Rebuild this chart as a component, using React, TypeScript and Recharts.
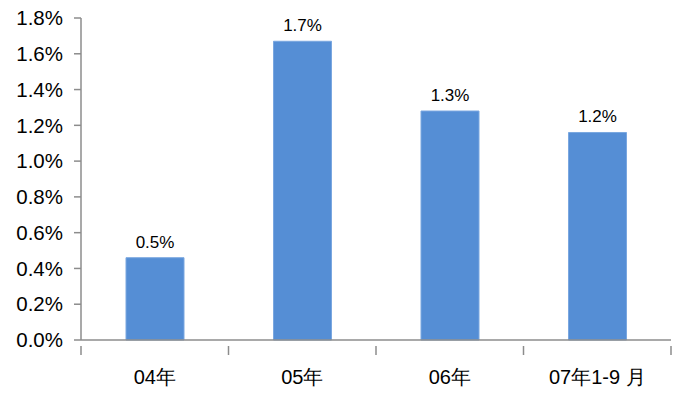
import React from "react";
import { BarChart, Bar, XAxis, YAxis, LabelList } from "recharts";

const categories = ["04年", "05年", "06年", "07年1-9 月"];
const rates = [0.46, 1.67, 1.28, 1.16];
const yTicks = [0, 0.2, 0.4, 0.6, 0.8, 1.0, 1.2, 1.4, 1.6, 1.8];

const data = categories.map((c, i) => ({ name: c, value: rates[i] }));

const AXIS = "#8c8c8c";
const FONT = "'Liberation Sans', Arial, sans-serif";

const XTick = (props: any) => {
  const { x, y, payload, index, visibleTicksCount } = props;
  const half = payload && payload.offset ? payload.offset : 73.75;
  const isLast = index === (visibleTicksCount ?? categories.length) - 1;
  return (
    <g>
      <line x1={x - half} x2={x - half} y1={y - 2} y2={y + 7} stroke={AXIS} strokeWidth={1.5} />
      {isLast && (
        <line x1={x + half} x2={x + half} y1={y - 2} y2={y + 7} stroke={AXIS} strokeWidth={1.5} />
      )}
      <text x={x} y={y + 36} textAnchor="middle" fontSize={20} fontFamily={FONT} fill="#000">
        {payload.value}
      </text>
    </g>
  );
};

export default function App() {
  return (
    <div style={{ position: "absolute", left: 0, top: 0, background: "#fff" }}>
      <BarChart
        width={683}
        height={394}
        data={data}
        margin={{ top: 18, right: 12, bottom: 24, left: 0 }}
        barSize={58}
      >
        <XAxis
          dataKey="name"
          axisLine={{ stroke: AXIS, strokeWidth: 1.5 }}
          tickLine={false}
          height={30}
          tick={<XTick />}
          interval={0}
        />
        <YAxis
          width={81}
          domain={[0, 1.8]}
          ticks={yTicks}
          interval={0}
          tickFormatter={(v: number) => v.toFixed(1) + "%"}
          axisLine={{ stroke: AXIS, strokeWidth: 1.5 }}
          tickLine={{ stroke: AXIS, strokeWidth: 1.5 }}
          tickSize={7}
          tickMargin={11}
          tick={{ fontSize: 20.5, fontFamily: FONT, fill: "#000" }}
        />
        <Bar dataKey="value" fill="#558ED5" stroke="#7aa7e0" strokeWidth={1} isAnimationActive={false}>
          <LabelList
            dataKey="value"
            position="top"
            offset={10}
            formatter={(v: number) => v.toFixed(1) + "%"}
            style={{ fontSize: 17, fontFamily: FONT, fill: "#000" }}
          />
        </Bar>
      </BarChart>
    </div>
  );
}
